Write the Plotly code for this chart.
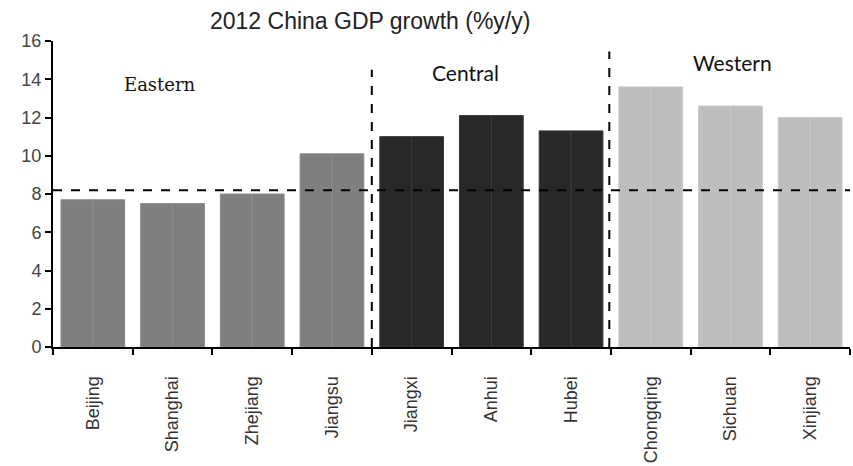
import plotly.graph_objects as go

provinces = ["Beijing", "Shanghai", "Zhejiang", "Jiangsu", "Jiangxi", "Anhui", "Hubei",
             "Chongqing", "Sichuan", "Xinjiang"]
growth = [7.7, 7.5, 8.0, 10.1, 11.0, 12.1, 11.3, 13.6, 12.6, 12.0]
regions = ["Eastern"] * 4 + ["Central"] * 3 + ["Western"] * 3
region_colors = {"Eastern": "#7f7f7f", "Central": "#282828", "Western": "#bdbdbd"}
region_edge = {"Eastern": "#8c8c8c", "Central": "#3a3a3a", "Western": "#c8c8c8"}
national_avg = 8.2
region_labels = ["Eastern", "Central", "Western"]
region_label_pos = [(0.84, 13.75), (4.68, 14.33), (8.03, 14.85)]
region_label_fonts = [("DejaVu Serif", 18), ("Lato", 21), ("Lato", 21)]
dividers = [(3.5, 14.5), (6.48, 15.45)]

fig = go.Figure()
for off in (-0.4, 0.0):
    fig.add_trace(go.Bar(
        x=provinces, y=growth,
        marker=dict(color=[region_colors[r] for r in regions],
                    line=dict(width=1, color=[region_edge[r] for r in regions])),
        width=0.4, offset=off, showlegend=False,
    ))

fig.add_shape(type="line", xref="paper", yref="y", x0=0, x1=1, y0=national_avg, y1=national_avg,
              line=dict(color="black", width=2, dash="dash"))
for xd, ytop in dividers:
    fig.add_shape(type="line", xref="x", yref="y", x0=xd, x1=xd, y0=0, y1=ytop,
                  line=dict(color="black", width=2, dash="dash"))

for lab, (lx, ly), (fnt, fs) in zip(region_labels, region_label_pos, region_label_fonts):
    fig.add_annotation(x=lx, y=ly, xref="x", yref="y", text=lab, showarrow=False,
                       font=dict(family=fnt, size=fs, color="#111"))

fig.update_layout(
    width=853, height=466,
    margin=dict(l=53, r=3, t=41, b=119),
    plot_bgcolor="white", paper_bgcolor="white",
    title=dict(text="2012 China GDP growth (%y/y)", x=0.434, xanchor="center", y=0.955, yanchor="middle",
               font=dict(family="Liberation Sans, Arial", size=23, color="#222")),
    barmode="overlay",
)
fig.update_yaxes(range=[0, 16], dtick=2, showgrid=False, zeroline=False,
                 showline=True, linecolor="black", linewidth=2,
                 ticks="outside", ticklen=6, tickcolor="black", tickwidth=2,
                 tickfont=dict(family="Liberation Sans, Arial", size=18, color="#444"))
fig.update_xaxes(showgrid=False, showline=True, linecolor="black", linewidth=2,
                 ticks="outside", tickson="boundaries", ticklen=6, tickcolor="black", tickwidth=2,
                 tickangle=-90, ticklabelstandoff=20,
                 tickfont=dict(family="Liberation Sans, Arial", size=18, color="#333"))

fig.write_html("out.html")
